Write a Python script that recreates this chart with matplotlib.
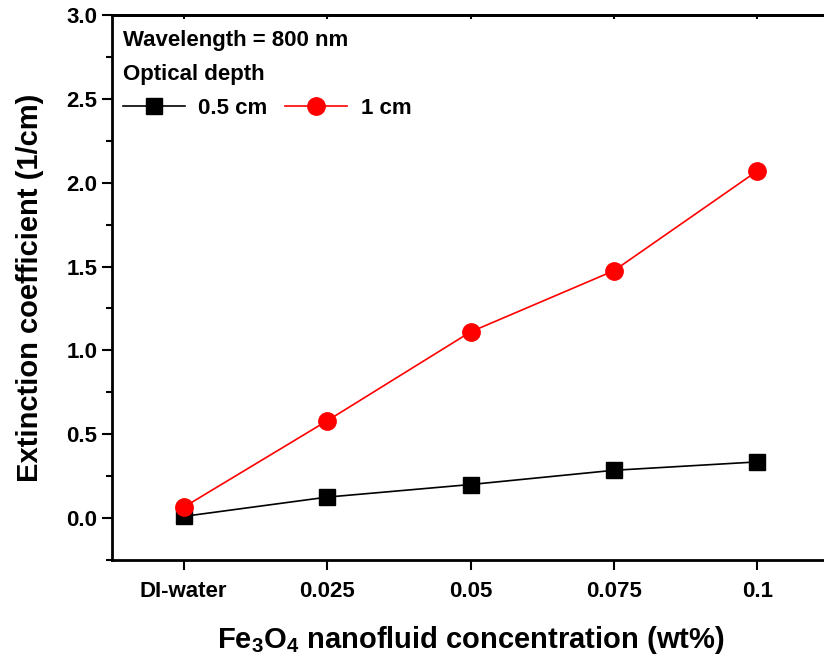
import matplotlib.pyplot as plt
from matplotlib.ticker import MultipleLocator

plt.rcParams['font.family'] = ['Liberation Sans', 'DejaVu Sans']
plt.rcParams['font.weight'] = 'bold'
plt.rcParams['mathtext.fontset'] = 'custom'
plt.rcParams['mathtext.bf'] = 'Liberation Sans:bold'
plt.rcParams['mathtext.rm'] = 'Liberation Sans:bold'

# data
categories = ['DI-water', '0.025', '0.05', '0.075', '0.1']
depth_05cm = [0.01, 0.125, 0.20, 0.285, 0.335]
depth_1cm = [0.065, 0.58, 1.11, 1.475, 2.07]

fig = plt.figure(figsize=(8.24, 6.61), dpi=100)
ax = fig.add_axes([112 / 824, 1 - 560 / 661, 717 / 824, 545 / 661])

x = range(len(categories))
ax.plot(x, depth_05cm, color='black', lw=1.2, marker='s', ms=11,
        label='0.5 cm')
ax.plot(x, depth_1cm, color='red', lw=1.2, marker='o', ms=12.5,
        label='1 cm')

ax.set_xlim(-0.5, 4.5)
ax.set_ylim(-0.25, 3.0)
ax.set_xticks(list(x))
ax.set_xticklabels(categories)
ax.yaxis.set_major_locator(MultipleLocator(0.5))
ax.yaxis.set_minor_locator(MultipleLocator(0.25))
ax.yaxis.set_major_formatter(plt.FormatStrFormatter('%.1f'))

for s in ax.spines.values():
    s.set_linewidth(2)
ax.tick_params(axis='both', which='major', labelsize=16, width=1.5,
               length=7, direction='out')
ax.tick_params(axis='y', which='minor', width=1.5, length=4,
               direction='out')
ax.tick_params(axis='x', pad=8)

top = ax.secondary_xaxis('top')
top.set_xticks(list(x))
top.tick_params(direction='in', length=3, width=1.5, labeltop=False)
top.spines['top'].set_linewidth(2)

ax.set_xlabel(r'Fe$_\mathbf{3}$O$_\mathbf{4}$ nanofluid concentration (wt%)',
              fontsize=21, fontweight='bold', labelpad=16)
ax.set_ylabel('Extinction coefficient (1/cm)', fontsize=21,
              fontweight='bold', labelpad=16)

ax.text(0.016, 0.973, 'Wavelength = 800 nm', transform=ax.transAxes,
        fontsize=16, fontweight='bold', va='top')
leg = ax.legend(title='Optical depth', loc='upper left', ncol=2,
                bbox_to_anchor=(-0.013, 0.946), frameon=False, fontsize=16,
                title_fontproperties={'weight': 'bold', 'size': 16},
                handlelength=2.8, columnspacing=0.8, handletextpad=0.6,
                labelspacing=0.55)
leg._legend_box.align = 'left'

fig.savefig('out.png', dpi=100)
